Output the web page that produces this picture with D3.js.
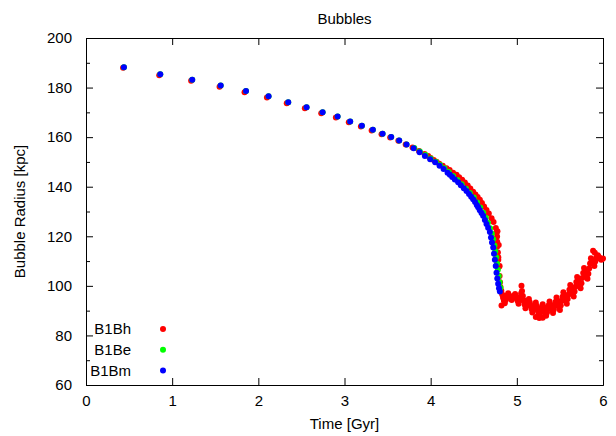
<!DOCTYPE html>
<html>
<head>
<meta charset="utf-8">
<script src="https://cdn.jsdelivr.net/npm/d3@7"></script>
<style>
  body { margin: 0; background: #fff; }
  text { font-family: "Liberation Sans", Arial, sans-serif; }
</style>
</head>
<body>
<div id="chart"></div>
<script>
// plot box in pixels
let margin = {top: 38, right: 13, bottom: 51, left: 86},
    width = 616 - margin.left - margin.right,
    height = 436 - margin.top - margin.bottom;

let fontSize = 15;
let dotR = 3;

// series names + colours (legend order)
let seriesNames = ["B1Bh", "B1Be", "B1Bm"];
let seriesColors = ["#ff0000", "#00ff00", "#0000ff"];

// tick values
let xTicks = [0, 1, 2, 3, 4, 5, 6];
let yTicks = [60, 80, 100, 120, 140, 160, 180, 200];
let yMinorTicks = [70, 90, 110, 130, 150, 170, 190];

// B1Bh (red): time [Gyr] and radius [kpc]
let timeB1Bh = [0.43, 0.85, 1.22, 1.55, 1.84, 2.10, 2.33, 2.54, 2.73, 2.90, 3.05, 3.19, 3.315, 3.43, 3.53, 3.625, 3.71, 3.79, 3.865, 3.93,
    3.971, 4.00, 4.035, 4.068, 4.10, 4.14, 4.184, 4.22, 4.26, 4.30, 4.33, 4.365, 4.397, 4.43, 4.46, 4.493, 4.52, 4.545, 4.571, 4.595,
    4.62, 4.648, 4.675, 4.707, 4.73, 4.756, 4.765, 4.771, 4.772, 4.771, 4.78, 4.785, 4.795, 4.80, 4.805, 4.81,
    4.82, 4.83, 4.84, 4.85, 4.86, 4.87, 4.88, 4.89, 4.90, 4.91, 4.92, 4.93, 4.94, 4.95, 4.96, 4.97, 4.98, 4.99,
    5.00, 5.01, 5.02, 5.03, 5.04, 5.05, 5.06, 5.07, 5.08, 5.09, 5.10, 5.11, 5.12, 5.13, 5.14, 5.15, 5.16, 5.17, 5.18, 5.19,
    5.20, 5.21, 5.22, 5.23, 5.24, 5.25, 5.26, 5.27, 5.28, 5.29, 5.30, 5.31, 5.32, 5.33, 5.34, 5.35, 5.36, 5.37, 5.38, 5.39,
    5.40, 5.41, 5.42, 5.43, 5.44, 5.45, 5.46, 5.47, 5.48, 5.49, 5.50, 5.51, 5.52, 5.53, 5.54, 5.55, 5.56, 5.57, 5.58, 5.59,
    5.60, 5.61, 5.62, 5.63, 5.64, 5.65, 5.66, 5.67, 5.68, 5.69, 5.70, 5.71, 5.72, 5.73, 5.74, 5.75, 5.76, 5.77, 5.78, 5.79,
    5.80, 5.81, 5.82, 5.83, 5.84, 5.85, 5.86, 5.87, 5.88, 5.89, 5.90, 5.91, 5.92, 5.93, 5.94, 5.95, 5.96, 5.97, 5.98, 5.99, 6.00,
    5.054, 5.885, 5.905, 4.775, 4.79, 4.80, 4.785, 4.822, 5.22, 5.26, 5.30];
let radiusB1Bh = [188.0, 185.0, 182.8, 180.3, 178.1, 176.0, 173.7, 171.7, 169.6, 167.9, 166.0, 164.3, 162.7, 161.2, 159.9, 158.5, 157.0, 155.8, 154.4, 153.2,
    152.4, 151.6, 150.8, 150.1, 149.3, 148.5, 147.5, 146.7, 145.6, 144.8, 143.8, 142.8, 141.7, 140.5, 139.3, 138.0, 136.9, 135.8, 134.7, 133.4,
    132.0, 130.6, 129.2, 127.3, 125.8, 123.3, 121.5, 119.9, 117.8, 115.8, 113.5, 111.5, 107.8, 104.0, 101.5, 99.5,
    98.0, 96.5, 95.2, 94.0, 93.0, 94.2, 95.3, 96.2, 97.0, 96.2, 95.5, 94.8, 94.3, 95.1, 95.6, 96.1, 96.7, 95.8,
    94.8, 93.9, 92.8, 94.0, 95.4, 97.0, 97.9, 95.9, 94.2, 92.5, 91.0, 91.9, 92.9, 93.8, 94.7, 93.4, 92.1, 90.7, 89.3, 90.2,
    91.2, 92.2, 93.3, 92.0, 90.6, 89.1, 87.7, 88.9, 90.1, 91.4, 92.6, 91.4, 90.2, 89.0, 87.9, 89.3, 90.8, 92.2, 93.7, 92.5,
    91.4, 90.2, 89.0, 90.5, 92.0, 93.6, 95.3, 94.1, 92.9, 91.6, 90.3, 92.1, 93.9, 95.6, 97.4, 96.2, 95.1, 94.0, 92.8, 94.7,
    96.5, 98.4, 100.3, 99.2, 98.0, 96.9, 95.7, 97.7, 99.6, 101.6, 103.6, 102.5, 101.4, 100.2, 99.0, 101.1, 103.2, 105.2, 107.2, 106.0,
    104.9, 103.9, 102.9, 104.9, 107.0, 109.0, 111.1, 110.3, 109.5, 108.7, 108.0, 109.8, 111.1, 111.9, 112.3, 111.7, 111.3, 110.9, 110.5, 110.8, 111.0,
    100.0, 114.2, 113.4, 122.0, 116.5, 108.0, 110.5, 92.1, 87.4, 87.0, 87.1];

// B1Be (green)
let timeB1Be = [0.44, 0.862, 1.233, 1.563, 1.857, 2.119, 2.347, 2.560, 2.746, 2.920, 3.066, 3.202, 3.329, 3.442, 3.542, 3.635, 3.720,
    3.81, 3.875, 3.94, 4.00, 4.06, 4.11, 4.16, 4.21, 4.26, 4.31, 4.36, 4.41, 4.455, 4.50, 4.54, 4.575, 4.61, 4.64, 4.665,
    4.69, 4.71, 4.725, 4.74, 4.75, 4.76, 4.77, 4.78, 4.79, 4.80, 4.81];
let radiusB1Be = [188.2, 185.4, 183.2, 180.8, 178.6, 176.5, 174.1, 172.1, 170.0, 168.3, 166.3, 164.6, 163.0, 161.4, 160.1, 158.6, 157.0,
    155.6, 154.2, 152.8, 151.4, 150.1, 148.8, 147.4, 145.9, 144.3, 142.7, 141.0, 139.2, 137.5, 135.6, 133.6, 131.6, 129.5, 127.5, 125.5,
    123.2, 121.0, 118.8, 116.3, 114.0, 111.5, 109.0, 106.5, 104.0, 101.5, 99.2];

// B1Bm (blue)
let timeB1Bm = [0.44, 0.862, 1.233, 1.563, 1.857, 2.119, 2.347, 2.560, 2.746, 2.920, 3.066, 3.202, 3.329, 3.442, 3.542, 3.635, 3.720,
    3.802, 3.871, 3.933, 3.994, 4.052, 4.103, 4.150, 4.196, 4.223, 4.25, 4.28, 4.319, 4.35, 4.385, 4.416, 4.445, 4.47, 4.493,
    4.515, 4.535, 4.551, 4.57, 4.59, 4.609, 4.629, 4.648, 4.667, 4.687, 4.70, 4.712, 4.726, 4.735, 4.745, 4.755, 4.764, 4.773,
    4.783, 4.793, 4.803];
let radiusB1Bm = [188.2, 185.4, 183.2, 180.8, 178.6, 176.5, 174.1, 172.1, 170.0, 168.3, 166.3, 164.6, 163.0, 161.4, 160.1, 158.6, 157.0,
    155.5, 153.9, 152.4, 151.1, 149.9, 148.5, 147.1, 145.6, 144.8, 143.9, 142.9, 141.8, 140.6, 139.4, 138.3, 137.1, 136.0, 134.9,
    133.8, 132.6, 131.7, 130.5, 129.4, 128.3, 126.6, 125.0, 123.4, 121.7, 119.5, 117.5, 115.5, 113.0, 110.5, 108.0, 105.3, 103.0,
    100.8, 99.0, 97.7];

let seriesTimes = [timeB1Bh, timeB1Be, timeB1Bm];
let seriesRadii = [radiusB1Bh, radiusB1Be, radiusB1Bm];

let svg = d3.select("#chart")
    .append("svg")
    .attr("width", 616)
    .attr("height", 436);

let g = svg.append("g")
    .attr("transform", "translate(" + margin.left + "," + margin.top + ")");

let xScale = d3.scaleLinear().domain([0, 6]).range([0, width]);
let yScale = d3.scaleLinear().domain([60, 200]).range([height, 0]);

// axes, ticks pointing inwards on all four sides
function styleAxis(sel) {
    sel.selectAll("path.domain").attr("stroke", "#000").attr("stroke-width", 1);
    sel.selectAll(".tick line").attr("stroke", "#000");
    sel.selectAll("text")
        .attr("fill", "#000")
        .style("font-size", fontSize + "px")
        .style("font-family", "'Liberation Sans', Arial, sans-serif");
}

g.append("g")
    .attr("transform", "translate(0," + height + ")")
    .call(d3.axisBottom(xScale).tickValues(xTicks).tickSizeInner(-7).tickSizeOuter(0).tickPadding(10).tickFormat(d3.format("d")))
    .call(styleAxis);

g.append("g")
    .call(d3.axisTop(xScale).tickValues(xTicks).tickSizeInner(-7).tickSizeOuter(0).tickFormat(""))
    .call(styleAxis);

g.append("g")
    .call(d3.axisLeft(yScale).tickValues(yTicks).tickSizeInner(-7).tickSizeOuter(0).tickPadding(14))
    .call(styleAxis);

g.append("g")
    .attr("transform", "translate(" + width + ",0)")
    .call(d3.axisRight(yScale).tickValues(yTicks).tickSizeInner(-7).tickSizeOuter(0).tickFormat(""))
    .call(styleAxis);

// minor ticks on y
g.append("g")
    .call(d3.axisLeft(yScale).tickValues(yMinorTicks).tickSizeInner(-4).tickSizeOuter(0).tickFormat(""))
    .call(styleAxis);
g.append("g")
    .attr("transform", "translate(" + width + ",0)")
    .call(d3.axisRight(yScale).tickValues(yMinorTicks).tickSizeInner(-4).tickSizeOuter(0).tickFormat(""))
    .call(styleAxis);

// points: red first, blue on top
seriesNames.forEach(function(name, i) {
    let pts = seriesTimes[i].map(function(t, j) { return {t: t, r: seriesRadii[i][j]}; });
    g.append("g")
        .attr("class", "series-" + name)
        .selectAll("circle")
        .data(pts)
        .enter()
        .append("circle")
        .attr("cx", d => xScale(d.t))
        .attr("cy", d => yScale(d.r))
        .attr("r", dotR)
        .attr("fill", seriesColors[i]);
});

// legend bottom-left
let legend = svg.append("g").attr("class", "legend");
seriesNames.forEach(function(name, i) {
    let ly = 329 + i * 20.8;
    legend.append("text")
        .attr("x", 131)
        .attr("y", ly)
        .attr("dy", "0.35em")
        .attr("text-anchor", "end")
        .style("font-size", fontSize + "px")
        .text(name);
    legend.append("circle")
        .attr("cx", 163)
        .attr("cy", ly)
        .attr("r", dotR)
        .attr("fill", seriesColors[i]);
});

// title and axis labels
svg.append("text")
    .attr("x", margin.left + width / 2)
    .attr("y", 24)
    .attr("text-anchor", "middle")
    .style("font-size", fontSize + "px")
    .text("Bubbles");

svg.append("text")
    .attr("x", margin.left + width / 2)
    .attr("y", 429)
    .attr("text-anchor", "middle")
    .style("font-size", fontSize + "px")
    .text("Time [Gyr]");

svg.append("text")
    .attr("transform", "translate(25," + (margin.top + height / 2) + ") rotate(-90)")
    .attr("text-anchor", "middle")
    .style("font-size", fontSize + "px")
    .text("Bubble Radius [kpc]");
</script>
</body>
</html>
